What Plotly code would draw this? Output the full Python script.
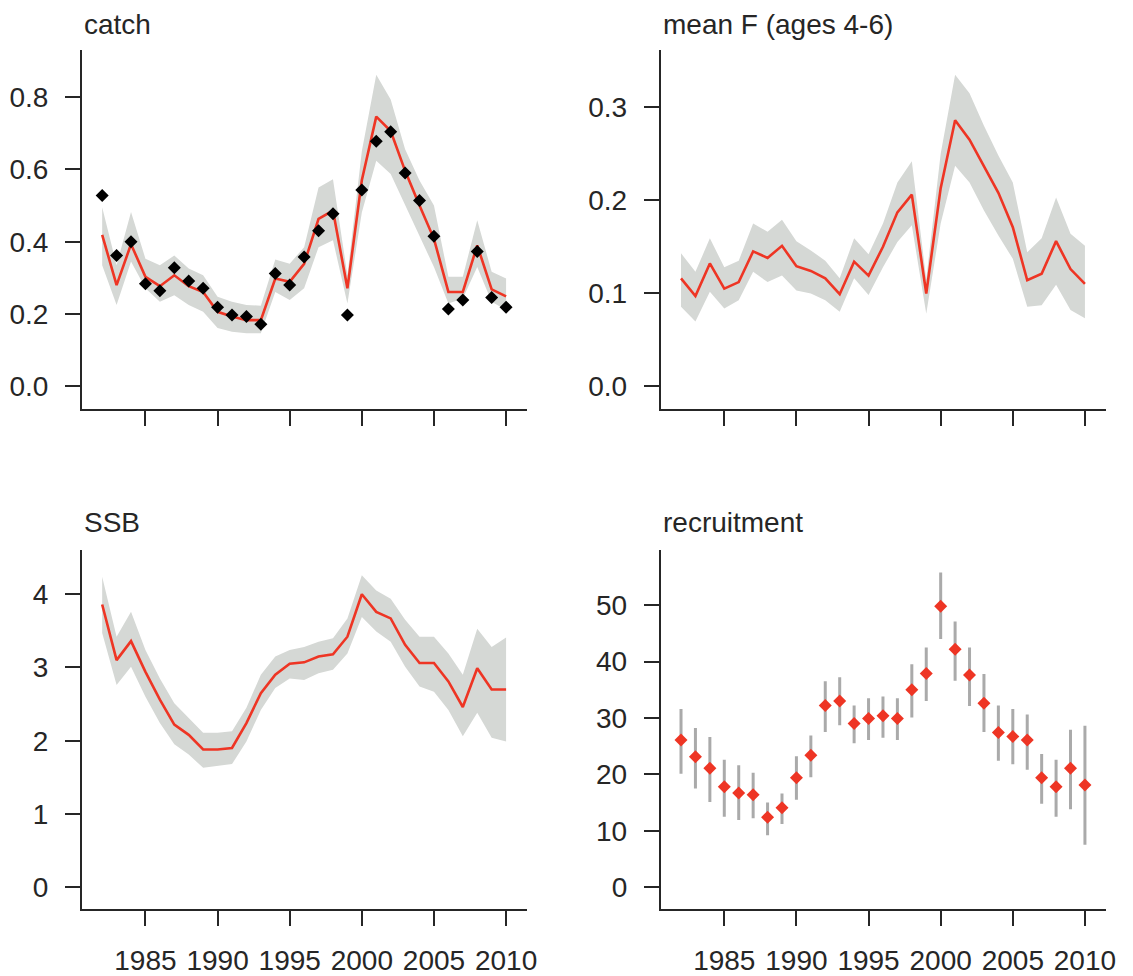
import plotly.graph_objects as go

years = list(range(1982, 2011))

catch_obs = [0.528, 0.362, 0.400, 0.284, 0.264, 0.328, 0.291, 0.271, 0.219, 0.197,
             0.193, 0.172, 0.312, 0.280, 0.358, 0.430, 0.477, 0.197, 0.543, 0.678,
             0.704, 0.590, 0.514, 0.415, 0.214, 0.239, 0.373, 0.246, 0.219]
catch_fit = [0.419, 0.280, 0.393, 0.303, 0.277, 0.307, 0.277, 0.261, 0.206, 0.193,
             0.183, 0.183, 0.298, 0.289, 0.339, 0.463, 0.486, 0.271, 0.570, 0.746,
             0.706, 0.596, 0.500, 0.408, 0.261, 0.261, 0.390, 0.268, 0.249]
catch_hi = [0.495, 0.335, 0.482, 0.353, 0.335, 0.362, 0.326, 0.307, 0.248, 0.234,
            0.225, 0.223, 0.351, 0.339, 0.385, 0.550, 0.573, 0.307, 0.650, 0.862,
            0.793, 0.656, 0.569, 0.500, 0.303, 0.303, 0.459, 0.317, 0.298]
catch_lo = [0.335, 0.225, 0.345, 0.271, 0.234, 0.252, 0.225, 0.206, 0.161, 0.151,
            0.147, 0.147, 0.261, 0.239, 0.271, 0.385, 0.404, 0.229, 0.481, 0.624,
            0.587, 0.500, 0.417, 0.330, 0.229, 0.243, 0.330, 0.234, 0.211]

f_fit = [0.116, 0.097, 0.132, 0.105, 0.112, 0.145, 0.138, 0.151, 0.129, 0.124,
         0.116, 0.099, 0.134, 0.119, 0.150, 0.187, 0.206, 0.0997, 0.213, 0.286,
         0.265, 0.237, 0.208, 0.171, 0.114, 0.121, 0.156, 0.126, 0.110]
f_hi = [0.143, 0.123, 0.159, 0.128, 0.135, 0.175, 0.166, 0.179, 0.156, 0.146,
        0.135, 0.116, 0.159, 0.142, 0.175, 0.219, 0.242, 0.115, 0.250, 0.335,
        0.315, 0.280, 0.248, 0.219, 0.144, 0.159, 0.203, 0.164, 0.151]
f_lo = [0.0855, 0.0695, 0.1015, 0.0837, 0.0926, 0.123, 0.112, 0.119, 0.103, 0.0997,
        0.0926, 0.080, 0.116, 0.098, 0.128, 0.155, 0.173, 0.078, 0.175, 0.237,
        0.219, 0.189, 0.162, 0.137, 0.0855, 0.087, 0.109, 0.082, 0.073]

ssb_fit = [3.86, 3.10, 3.36, 2.94, 2.56, 2.22, 2.08, 1.88, 1.88, 1.90,
           2.24, 2.65, 2.90, 3.05, 3.07, 3.15, 3.18, 3.42, 4.00, 3.76,
           3.67, 3.31, 3.06, 3.06, 2.81, 2.46, 2.99, 2.70, 2.70]
ssb_hi = [4.24, 3.42, 3.76, 3.24, 2.85, 2.51, 2.31, 2.11, 2.11, 2.13,
          2.45, 2.90, 3.15, 3.24, 3.28, 3.35, 3.40, 3.67, 4.26, 4.05,
          3.94, 3.65, 3.42, 3.42, 3.19, 2.90, 3.53, 3.28, 3.41]
ssb_lo = [3.47, 2.76, 3.01, 2.60, 2.24, 1.95, 1.81, 1.63, 1.65, 1.68,
          1.99, 2.42, 2.72, 2.85, 2.83, 2.92, 2.97, 3.19, 3.69, 3.49,
          3.35, 3.01, 2.74, 2.67, 2.42, 2.06, 2.38, 2.04, 1.99]

rec = [26.1, 23.1, 21.1, 17.8, 16.7, 16.4, 12.4, 14.1, 19.4, 23.4,
       32.2, 33.0, 29.0, 29.9, 30.4, 29.9, 35.0, 37.9, 49.8, 42.2,
       37.6, 32.6, 27.4, 26.7, 26.1, 19.4, 17.8, 21.1, 18.1]
rec_hi = [31.6, 28.2, 26.6, 22.6, 21.6, 20.3, 15.0, 16.6, 23.2, 26.9,
          36.5, 37.2, 32.2, 33.5, 33.8, 33.5, 39.5, 42.5, 55.8, 47.1,
          42.5, 37.8, 32.2, 31.6, 30.6, 23.6, 22.6, 27.9, 28.6]
rec_lo = [20.1, 17.5, 15.1, 12.5, 11.9, 12.2, 9.2, 11.2, 15.5, 19.5,
          27.5, 28.7, 25.5, 26.1, 26.5, 26.1, 30.1, 33.0, 44.0, 36.6,
          32.1, 27.5, 22.4, 21.8, 20.8, 14.8, 12.5, 13.8, 7.5]

titles = ["catch", "mean F (ages 4-6)", "SSB", "recruitment"]
xtick_vals = [1985, 1990, 1995, 2000, 2005, 2010]
ytick_catch = [0.0, 0.2, 0.4, 0.6, 0.8]
ytick_f = [0.0, 0.1, 0.2, 0.3]
ytick_ssb = [0, 1, 2, 3, 4]
ytick_rec = [0, 10, 20, 30, 40, 50]

RED = "#ee3524"
BAND = "#d5d8d5"
BAR = "#aaaaaa"
INK = "#262626"
FONT = "Liberation Sans, Arial, sans-serif"

W, H = 1133, 976
# pixel geometry of the panels
px_left = [82.7, 666.7]
px_w = 449.0
px_top = [50.7, 552.7]
px_h = [360.0, 361.3]

fig = go.Figure()


def band(xa, ya, hi, lo):
    fig.add_trace(go.Scatter(x=years + years[::-1], y=hi + lo[::-1], fill="toself",
                             fillcolor=BAND, line=dict(width=0), mode="lines",
                             xaxis=xa, yaxis=ya, hoverinfo="skip", showlegend=False))


def line(xa, ya, vals):
    fig.add_trace(go.Scatter(x=years, y=vals, mode="lines", line=dict(color=RED, width=2.6),
                             xaxis=xa, yaxis=ya, showlegend=False))


# catch
band("x", "y", catch_hi, catch_lo)
line("x", "y", catch_fit)
fig.add_trace(go.Scatter(x=years, y=catch_obs, mode="markers",
                         marker=dict(symbol="diamond", size=10, color="black", line=dict(width=0)),
                         xaxis="x", yaxis="y", showlegend=False))
# F
band("x2", "y2", f_hi, f_lo)
line("x2", "y2", f_fit)
# SSB
band("x3", "y3", ssb_hi, ssb_lo)
line("x3", "y3", ssb_fit)
# recruitment
fig.add_trace(go.Scatter(x=years, y=rec, mode="markers",
                         error_y=dict(type="data", symmetric=False,
                                      array=[h - v for h, v in zip(rec_hi, rec)],
                                      arrayminus=[v - l for v, l in zip(rec, rec_lo)],
                                      color=BAR, thickness=3, width=0),
                         marker=dict(symbol="diamond", size=10, color=RED, line=dict(width=0)),
                         xaxis="x4", yaxis="y4", showlegend=False))

yranges = [[-0.0616, 0.929], [-0.024, 0.361], [-0.303, 4.606], [-3.93, 59.8]]
yticks = [ytick_catch, ytick_f, ytick_ssb, ytick_rec]
ytext = [["0.0", "0.2", "0.4", "0.6", "0.8"], ["0.0", "0.1", "0.2", "0.3"],
         [str(v) for v in ytick_ssb], [str(v) for v in ytick_rec]]

layout = dict(width=W, height=H, margin=dict(l=0, r=0, t=0, b=0),
              plot_bgcolor="white", paper_bgcolor="white",
              font=dict(family=FONT, size=28, color=INK), showlegend=False)

annotations = []
for i in range(4):
    col = i % 2
    row = i // 2
    x0 = px_left[col] / W
    x1 = (px_left[col] + px_w) / W
    y1 = 1 - px_top[row] / H
    y0 = 1 - (px_top[row] + px_h[row]) / H
    sfx = "" if i == 0 else str(i + 1)
    layout["xaxis" + sfx] = dict(domain=[x0, x1], range=[1980.6, 2011.45], anchor="y" + sfx,
                                 showgrid=False, zeroline=False, showline=True,
                                 linecolor=INK, linewidth=2, ticks="outside", ticklen=15,
                                 tickwidth=2, tickcolor=INK, tickvals=xtick_vals,
                                 ticktext=[str(v) for v in xtick_vals],
                                 showticklabels=(row == 1), ticklabelstandoff=10,
                                 tickfont=dict(size=28, color=INK, family=FONT))
    layout["yaxis" + sfx] = dict(domain=[y0, y1], range=yranges[i], anchor="x" + sfx,
                                 showgrid=False, zeroline=False, showline=True,
                                 linecolor=INK, linewidth=2, ticks="outside", ticklen=15,
                                 tickwidth=2, tickcolor=INK, tickvals=yticks[i],
                                 ticktext=ytext[i], ticklabelstandoff=11,
                                 tickfont=dict(size=28, color=INK, family=FONT))
    title_y = 25 if row == 0 else 525
    annotations.append(dict(text=titles[i], xref="paper", yref="paper",
                            x=px_left[col] / W, y=1 - title_y / H, xanchor="left",
                            yanchor="middle", showarrow=False,
                            font=dict(size=28, color=INK, family=FONT)))
layout["annotations"] = annotations
fig.update_layout(**layout)

fig.write_html("out.html")
